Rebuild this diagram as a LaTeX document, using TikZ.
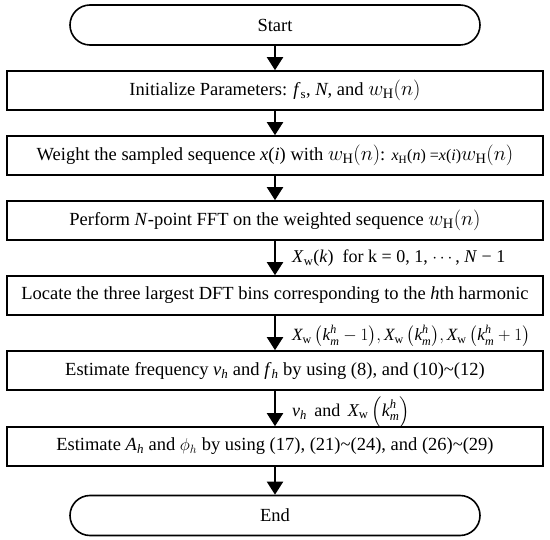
\documentclass[tikz,border=0pt]{standalone}
\usepackage{amsmath}
\usepackage{fontspec}
\setmainfont{Liberation Serif}
\usetikzlibrary{arrows.meta}
\newcommand{\ti}[1]{\textit{#1}}
\newcommand{\wHn}{{\fontsize{20.5}{21}\selectfont$w_{\mathrm{H}}(n)$}}
\newcommand{\Xw}{\ti{X}_{\textrm{w}}}
\newcommand{\kmh}{\ti{k}^{\ti{h}}_{\ti{m}}}
\begin{document}
\begin{tikzpicture}[x=1pt,y=1pt,
  proc/.style={draw, line width=1.6pt, minimum width=536pt, minimum height=39pt, inner sep=0pt, font=\fontsize{18.5}{21}\selectfont},
  term/.style={draw, line width=1.6pt, rounded corners=20pt, minimum width=410pt, minimum height=40pt, inner sep=0pt, font=\fontsize{18.5}{21}\selectfont},
  flow/.style={line width=2pt, -{Triangle[width=16pt,length=13pt]}},
  lab/.style={anchor=west, inner sep=0pt, font=\fontsize{18}{20}\selectfont}]
\useasboundingbox (0,0) rectangle (550,-540);
\node[term] (start) at (275,-25) {Start};
\node[proc] (b1) at (275,-90.5) {Initialize Parameters: \ti{f}\textsubscript{s}, \ti{N}, and \wHn};
\node[proc] (b2) at (275,-155.5) {Weight the sampled sequence \ti{x}(\ti{i}) with \wHn: {\fontsize{16}{17}\selectfont\ti{x}\textsubscript{H}(\ti{n}) =\ti{x}(\ti{i})}\wHn};
\node[proc] (b3) at (275,-220.5) {Perform \ti{N}-point FFT on the weighted sequence \wHn};
\node[proc] (b4) at (275,-295.5) {Locate the three largest DFT bins corresponding to the \ti{h}th harmonic};
\node[proc] (b5) at (275,-370.5) {Estimate frequency \ti{v}\textsubscript{\ti{h}} and \ti{f}\textsubscript{\ti{h}} by using (8), and (10)\textasciitilde(12)};
\node[proc] (b6) at (275,-446.5) {Estimate \ti{A}\textsubscript{\ti{h}} and $\phi_h$ by using (17), (21)\textasciitilde(24), and (26)\textasciitilde(29)};
\node[term] (end) at (275,-515.5) {End};
\node[lab] (l1) at (292,-258) {\ti{X}\textsubscript{w}(\ti{k})\ \ for k = 0, 1, $\cdots$, \ti{N} − 1};
\node[lab, font=\fontsize{17.2}{20}\selectfont] (l2) at (292,-336) {$\Xw\left(\kmh-1\right)\!,\Xw\left(\kmh\right)\!,\Xw\left(\kmh+1\right)$};
\node[lab] (l3) at (292,-412) {$\ti{v}_{\ti{h}}$ \,and\, $\Xw\left(\kmh\right)$};
\draw[flow] (start) -- (b1);
\draw[flow] (b1) -- (b2);
\draw[flow] (b2) -- (b3);
\draw[flow] (b3) -- (b4);
\draw[flow] (b4) -- (b5);
\draw[flow] (b5) -- (b6);
\draw[flow] (b6) -- (end);
\end{tikzpicture}
\end{document}
